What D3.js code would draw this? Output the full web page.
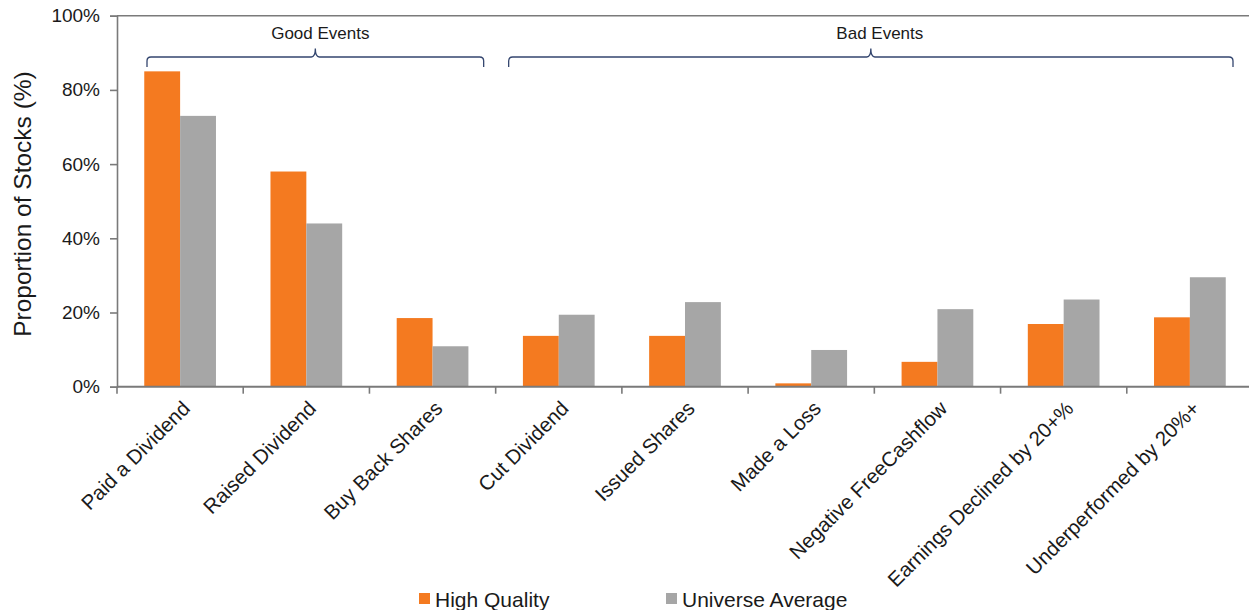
<!DOCTYPE html>
<html>
<head>
<meta charset="utf-8">
<script src="https://cdn.jsdelivr.net/npm/d3@7"></script>
<style>
  html, body { margin: 0; padding: 0; background: #fff; }
  svg { display: block; font-family: "Liberation Sans", Arial, sans-serif; }
</style>
</head>
<body>
<svg id="chart" width="1249" height="610"></svg>
<script>
// Event categories and the share of stocks experiencing each one
const categories = [
  "Paid a Dividend", "Raised Dividend", "Buy Back Shares",
  "Cut Dividend", "Issued Shares", "Made a Loss",
  "Negative FreeCashflow", "Earnings Declined by 20+%", "Underperformed by 20%+"
];
const seriesNames = ["High Quality", "Universe Average"];
const highQuality = [85, 58, 18.5, 13.7, 13.7, 0.9, 6.7, 16.9, 18.7];
const universeAverage = [73, 44, 10.9, 19.4, 22.8, 9.9, 20.9, 23.5, 29.5];
const yTicks = [0, 20, 40, 60, 80, 100];
// Event groups, by first and last category index
const groupNames = ["Good Events", "Bad Events"];
const groupFirst = [0, 3];
const groupLast = [2, 8];

const colors = { "High Quality": "#F47A20", "Universe Average": "#A6A6A6" };
const axisColor = "#7a7a7a";
const textColor = "#1a1a1a";
const bracketColor = "#34466f";

const svg = d3.select("#chart");

const plot = { left: 117, right: 1253, top: 15.7, bottom: 386.7 };

const x = d3.scaleBand().domain(categories).range([plot.left, plot.right]).padding(0);
const x1 = d3.scaleBand().domain(seriesNames).range([0, x.bandwidth()])
  .paddingInner(0).paddingOuter(0.76);
const y = d3.scaleLinear().domain([0, 100]).range([plot.bottom, plot.top]);

// Bars
const rows = categories.map((c, i) => ({ cat: c, vals: [highQuality[i], universeAverage[i]] }));
const grp = svg.append("g").selectAll("g").data(rows).join("g")
  .attr("transform", d => `translate(${x(d.cat)},0)`);
grp.selectAll("rect")
  .data(d => d.vals.map((v, j) => ({ s: seriesNames[j], v })))
  .join("rect")
  .attr("x", d => x1(d.s))
  .attr("width", x1.bandwidth())
  .attr("y", d => y(d.v))
  .attr("height", d => y(0) - y(d.v))
  .attr("fill", d => colors[d.s]);

// Y axis
const yAxis = d3.axisLeft(y).tickValues(yTicks).tickSize(7).tickPadding(10)
  .tickFormat(d => d + "%");
const gy = svg.append("g").attr("transform", `translate(${plot.left},0)`).call(yAxis);
gy.select(".domain").attr("stroke", axisColor).attr("stroke-width", 1.6);
gy.selectAll(".tick line").attr("stroke", axisColor).attr("stroke-width", 1.6);
gy.selectAll(".tick text").attr("font-size", 19).attr("fill", textColor)
  .attr("font-family", "Liberation Sans, Arial, sans-serif");

// Top frame line at 100%
svg.append("line")
  .attr("x1", plot.left).attr("x2", plot.right)
  .attr("y1", y(100)).attr("y2", y(100))
  .attr("stroke", axisColor).attr("stroke-width", 1.6);

// X axis with ticks on category boundaries
const bounds = d3.range(categories.length + 1).map(i => plot.left + i * x.step());
svg.append("line")
  .attr("x1", plot.left).attr("x2", plot.right)
  .attr("y1", y(0)).attr("y2", y(0))
  .attr("stroke", axisColor).attr("stroke-width", 2);
svg.append("g").selectAll("line").data(bounds).join("line")
  .attr("x1", d => d).attr("x2", d => d)
  .attr("y1", y(0)).attr("y2", y(0) + 7)
  .attr("stroke", axisColor).attr("stroke-width", 1.6);

// Rotated category labels
svg.append("g").selectAll("text").data(categories).join("text")
  .attr("transform", d => `translate(${x(d) + x.bandwidth() / 2 + 6},${y(0) + 18}) rotate(-45)`)
  .attr("text-anchor", "end")
  .attr("dy", "0.35em")
  .attr("font-size", 20.5)
  .attr("fill", textColor)
  .text(d => d);

// Y axis title
svg.append("text")
  .attr("transform", `translate(31,204) rotate(-90)`)
  .attr("text-anchor", "middle")
  .attr("font-size", 24.5)
  .attr("fill", textColor)
  .text("Proportion of Stocks (%)");

// Curly brackets over the event groups
const bracketInset = [[30, 12], [13, 20]];
const yLine = 57, yEnd = 67, yTip = 48.5;
groupNames.forEach((name, i) => {
  const x0 = x(categories[groupFirst[i]]) + bracketInset[i][0];
  const x1b = x(categories[groupLast[i]]) + x.bandwidth() - bracketInset[i][1];
  const xm = (x0 + x1b) / 2;
  const r = 4;
  const p = d3.path();
  p.moveTo(x0, yEnd);
  p.lineTo(x0, yLine + r);
  p.quadraticCurveTo(x0, yLine, x0 + r, yLine);
  p.lineTo(xm - r, yLine);
  p.quadraticCurveTo(xm, yLine, xm, yTip);
  p.quadraticCurveTo(xm, yLine, xm + r, yLine);
  p.lineTo(x1b - r, yLine);
  p.quadraticCurveTo(x1b, yLine, x1b, yLine + r);
  p.lineTo(x1b, yEnd);
  svg.append("path").attr("d", p.toString())
    .attr("fill", "none").attr("stroke", bracketColor).attr("stroke-width", 1.3);
  svg.append("text")
    .attr("x", xm + (i === 0 ? 5 : 9)).attr("y", 39)
    .attr("text-anchor", "middle")
    .attr("font-size", 17)
    .attr("fill", textColor)
    .text(name);
});

// Legend
const legendX = [419, 666];
const lg = svg.append("g").selectAll("g").data(seriesNames).join("g")
  .attr("transform", (d, i) => `translate(${legendX[i]},593)`);
lg.append("rect").attr("width", 11).attr("height", 11).attr("fill", d => colors[d]);
lg.append("text").attr("x", 16).attr("y", 14)
  .attr("font-size", 21).attr("fill", textColor).text(d => d);
</script>
</body>
</html>
